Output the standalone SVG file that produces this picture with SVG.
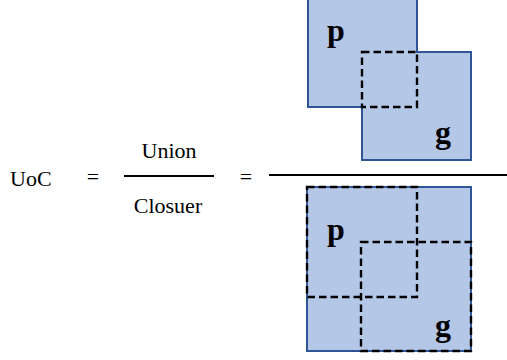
<svg xmlns="http://www.w3.org/2000/svg" width="507" height="360" viewBox="0 0 507 360">
<style>
text{font-family:'Liberation Serif','DejaVu Serif',serif}
.t{font-size:22px;fill:#000}
.b{font-size:32px;font-weight:bold;fill:#000}
.sh{fill:#B4C7E7;stroke:#2F5597;stroke-width:2}
.d{fill:none;stroke:#000;stroke-width:2.4;stroke-dasharray:7.5 4}
.ln{stroke:#000;stroke-width:2}
</style>
<rect width="507" height="360" fill="#fff"/>
<g id="formula">
<text class="t" x="10" y="186">UoC</text>
<text class="t" x="93" y="184" text-anchor="middle">=</text>
<text class="t" x="169" y="158" text-anchor="middle">Union</text>
<line class="ln" x1="124" y1="176" x2="214" y2="176"/>
<text class="t" x="168" y="213" text-anchor="middle">Closuer</text>
<text class="t" x="246" y="184" text-anchor="middle">=</text>
<line class="ln" x1="269" y1="175" x2="507" y2="175"/>
</g>
<g id="union">
<path class="sh" d="M308,-2 H417 V52 H471 V160 H362 V107 H308 Z"/>
<rect class="d" x="362" y="52" width="55" height="55"/>
<text class="b" x="327" y="41">p</text>
<text class="b" x="435" y="143">g</text>
</g>
<g id="closure">
<rect class="sh" x="307" y="187" width="164" height="164"/>
<rect class="d" x="307" y="187" width="110" height="110"/>
<rect class="d" x="361" y="242" width="110" height="109"/>
<text class="b" x="327" y="240">p</text>
<text class="b" x="435" y="336">g</text>
</g>
</svg>
